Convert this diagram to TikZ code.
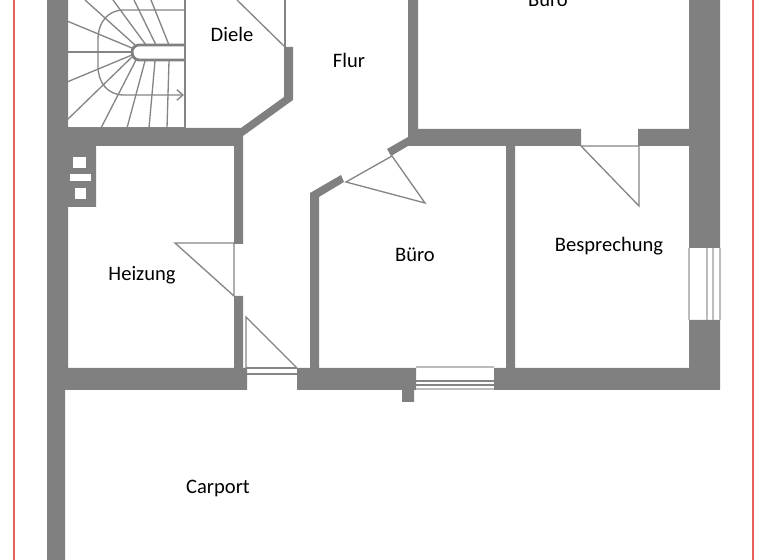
\documentclass[tikz,border=0pt]{standalone}
\usepackage{fontspec}
\usepackage{tikz}
\usetikzlibrary{arrows.meta}
\setmainfont{Carlito}
\definecolor{wallgray}{HTML}{808080}
\definecolor{linegray}{HTML}{858585}
\definecolor{glassgray}{HTML}{BCBCBC}
\definecolor{borderred}{HTML}{E8625C}
\tikzset{
    wall/.style={fill=wallgray, draw=none},
    thinline/.style={draw=linegray, line width=0.75pt},
    glass/.style={draw=glassgray, line width=0.75pt},
    roomlabel/.style={font=\fontsize{11.7pt}{13pt}\selectfont, text=black, inner sep=0pt}
}

\begin{document}
\begin{tikzpicture}[x=0.02cm, y=-0.02cm]
    \path[use as bounding box, clip] (0,0) rectangle (768,560);
    \fill[white] (0,0) rectangle (768,560);

    % red margin
    \draw[borderred, line width=1pt] (14,0) -- (14,560);
    \draw[borderred, line width=1pt] (753,0) -- (753,560);

    % stairs
    \draw[thinline] (185,0) -- (185,128);
    \draw[thinline] (68,128) -- (185,128);
    \draw[thinline] (67,120) -- (132,57);
    \draw[thinline] (101,128) -- (136,60);
    \draw[thinline] (127,128) -- (145,61);
    \draw[thinline] (149,128) -- (155,61);
    \draw[thinline] (167,128) -- (169,61);
    \draw[thinline] (67,82) -- (132,55);
    \draw[thinline] (67,52) -- (132,52);
    \draw[thinline] (67,21) -- (132,48);
    \draw[thinline] (85,0) -- (135,45);
    \draw[thinline] (113,0) -- (146,45);
    \draw[thinline] (134,0) -- (156,45);
    \draw[thinline] (151,0) -- (169,45);
    \draw[wallgray, line width=1.6pt, line join=round] (185,45) -- (139,45) to[out=180, in=90] (132,52) to[out=-90, in=180] (139,60) -- (185,60);
    \draw[-{Straight Barb[length=3.5pt, width=6pt]}, thinline] (185,10) -- (124,10) .. controls (108,10) and (98,22) .. (98,40) -- (98,66) .. controls (98,82) and (107,95) .. (124,95) -- (184,95);

    % outer and inner walls
    \fill[wall] (47,0) -- (68,0) -- (68,128) -- (241,128) -- (284,97) -- (284,47) -- (293,47) -- (293,100) -- (243,136) -- (243,244) -- (234,244) -- (234,146) -- (96,146) -- (96,207) -- (68,207) -- (68,368) -- (234,368) -- (234,296) -- (243,296) -- (243,368) -- (247,368) -- (247,390) -- (65,390) -- (65,560) -- (47,560) -- cycle;
    \fill[wall] (297,368) -- (310,368) -- (310,193) -- (341,175) -- (344,182) -- (319,197) -- (319,368) -- (416,368) -- (416,390) -- (414,390) -- (414,402) -- (402,402) -- (402,390) -- (297,390) -- cycle;
    \fill[wall] (387,149) -- (408,137) -- (408,0) -- (418,0) -- (418,129) -- (581,129) -- (581,146) -- (515,146) -- (515,368) -- (689,368) -- (689,320) -- (720,320) -- (720,390) -- (494,390) -- (494,368) -- (506,368) -- (506,146) -- (408,146) -- (391,156) -- cycle;
    \fill[wall] (638,129) -- (689,129) -- (689,0) -- (720,0) -- (720,248) -- (689,248) -- (689,146) -- (638,146) -- cycle;

    % chimney holes
    \fill[white] (73,157) rectangle (86,168);
    \fill[white] (70,174) rectangle (91,181);
    \fill[white] (75,188) rectangle (86,199);

    % doors
    \draw[thinline] (237,0) -- (285,47);
    \draw[thinline] (285,0) -- (285,47);
    \draw[thinline] (175,243) -- (234,243) -- (234,296) -- cycle;
    \draw[thinline] (346,182) -- (392,156) -- (425,203) -- cycle;
    \draw[thinline] (581,146) -- (639,146) -- (639,206) -- cycle;
    \draw[thinline] (297,368) -- (246,317) -- (246,368);
    \draw[thinline] (246,368) -- (297,368);
    \draw[thinline] (247,374) -- (297,374);

    % windows
    \draw[glass] (416,367) -- (494,367);
    \draw[glass] (416,389) -- (494,389);
    \draw[thinline] (416,381) -- (494,381);
    \draw[thinline] (416,385) -- (494,385);
    \draw[glass] (689,248) -- (689,320);
    \draw[glass] (707,248) -- (707,320);
    \draw[glass] (713,248) -- (713,320);
    \draw[glass] (720,248) -- (720,320);

    % rooms
    \node[roomlabel] (diele) at (232,34) {Diele};
    \node[roomlabel] (flur) at (349,60) {Flur};
    \node[roomlabel] (buerooben) at (548,0) {Büro};
    \node[roomlabel] (buero) at (415,255) {Büro};
    \node[roomlabel] (besprechung) at (609,246) {Besprechung};
    \node[roomlabel] (heizung) at (142,275) {Heizung};
    \node[roomlabel] (carport) at (218,488) {Carport};
\end{tikzpicture}
\end{document}
